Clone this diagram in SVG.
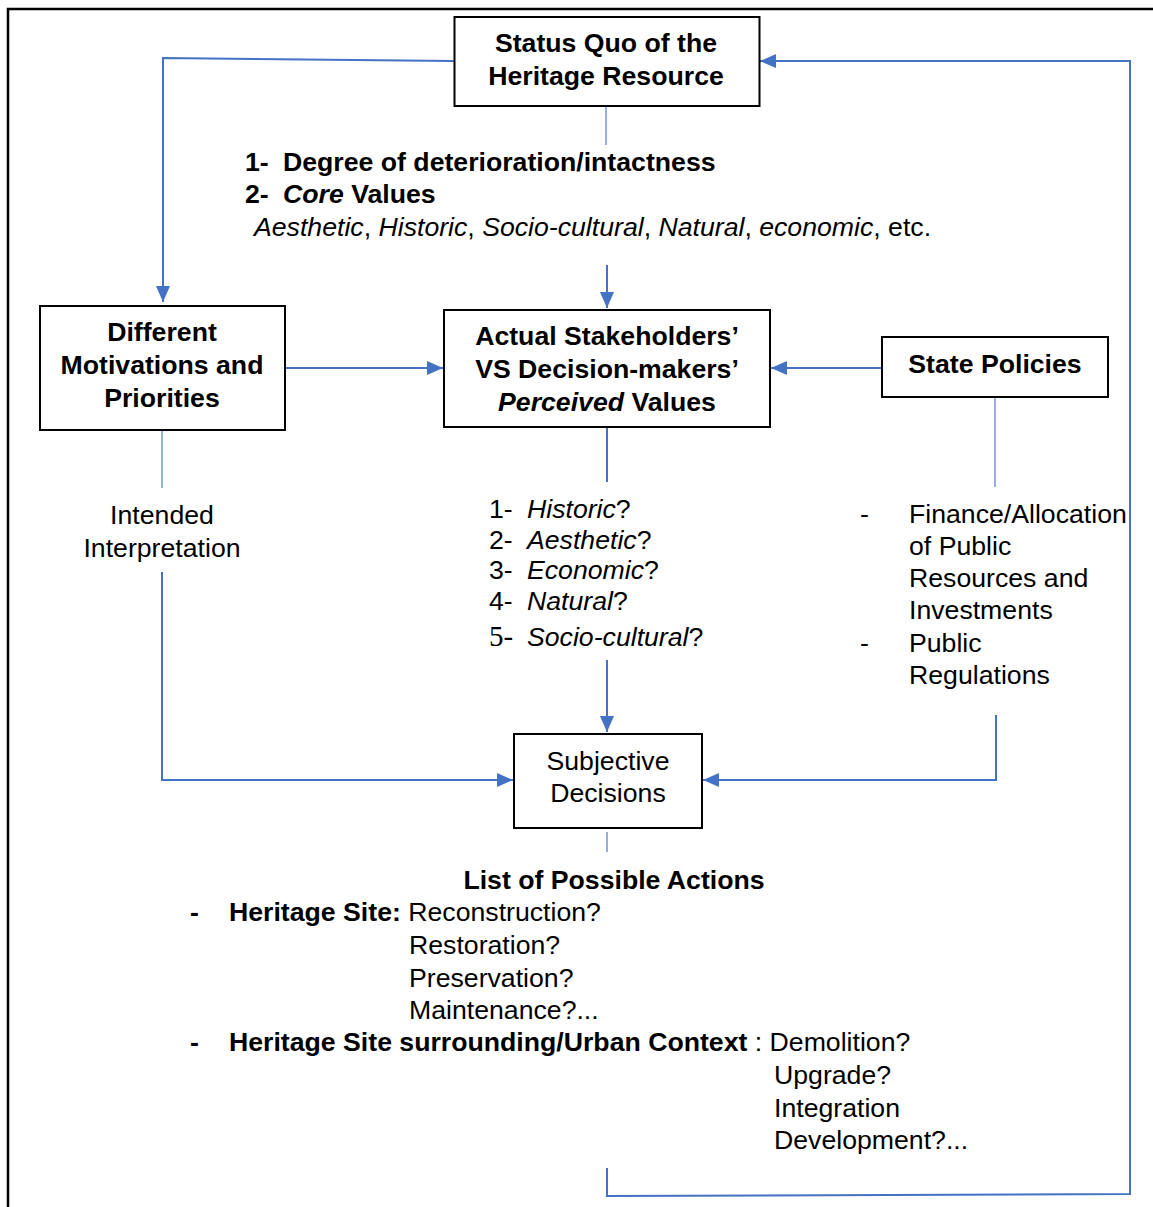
<svg xmlns="http://www.w3.org/2000/svg" width="1153" height="1207" viewBox="0 0 1153 1207">
<style>
.box{fill:#fff;stroke:#000;stroke-width:2}
.c{fill:none;stroke:#4472C4;stroke-width:2}
.t{stroke:#7394D6;stroke-width:1.5;fill:none}
text{font-family:"Liberation Sans",Arial,sans-serif;font-size:26.67px;fill:#000}
.b{font-weight:bold}
.i{font-style:italic}
.m{text-anchor:middle}
</style>
<defs>
<marker id="ah" viewBox="0 0 16 14" refX="16" refY="7" markerWidth="16" markerHeight="14" orient="auto" markerUnits="userSpaceOnUse"><path d="M0,0 L16,7 L0,14 Z" fill="#4472C4"/></marker>
</defs>
<rect width="1153" height="1207" fill="#fff"/>
<path d="M8,1207 V9 H1153" fill="none" stroke="#000" stroke-width="2.5"/>

<g id="connectors">
<path class="c" d="M454,61 L163,58 V302" marker-end="url(#ah)"/>
<path class="t" d="M606,106 V145"/>
<path class="c" d="M607,265 V308" marker-end="url(#ah)"/>
<path class="c" d="M285,368 H443" marker-end="url(#ah)"/>
<path class="c" d="M882,368 H771" marker-end="url(#ah)"/>
<path class="c" d="M607,427 V482"/>
<path class="c" d="M607,660 V732" marker-end="url(#ah)"/>
<path class="t" d="M162,430 V488"/>
<path class="c" d="M162,572 V780 H513" marker-end="url(#ah)"/>
<path class="t" d="M995,397 V487"/>
<path class="c" d="M996,715 V780 H703" marker-end="url(#ah)"/>
<path class="t" d="M607,832 V852"/>
<path class="c" d="M607,1168 V1196 L1130,1194 V61 H760" marker-end="url(#ah)"/>
</g>

<g id="status-quo">
<rect class="box" x="454.5" y="17" width="305" height="89"/>
<text class="b m" x="606" y="52">Status Quo of the</text>
<text class="b m" x="606" y="85">Heritage Resource</text>
</g>

<g id="core-values-label">
<text class="b" x="245" y="171">1-<tspan x="283">Degree of deterioration/intactness</tspan></text>
<text class="b" x="245" y="203">2-<tspan x="283" class="i">Core</tspan> Values</text>
<text x="254" y="236"><tspan class="i">Aesthetic</tspan>, <tspan class="i">Historic</tspan>, <tspan class="i">Socio-cultural</tspan>, <tspan class="i">Natural</tspan>, <tspan class="i">economic</tspan>, etc.</text>
</g>

<g id="different-motivations">
<rect class="box" x="40" y="306" width="245" height="124"/>
<text class="b m" x="162" y="341">Different</text>
<text class="b m" x="162" y="374">Motivations and</text>
<text class="b m" x="162" y="407">Priorities</text>
</g>

<g id="actual-stakeholders">
<rect class="box" x="444" y="310" width="326" height="117"/>
<text class="b m" x="607" y="345">Actual Stakeholders’</text>
<text class="b m" x="607" y="378">VS Decision-makers’</text>
<text class="b m" x="607" y="411"><tspan class="i">Perceived</tspan> Values</text>
</g>

<g id="state-policies">
<rect class="box" x="882" y="337" width="226" height="60"/>
<text class="b m" x="995" y="373">State Policies</text>
</g>

<g id="intended-interpretation">
<text class="m" x="162" y="524">Intended</text>
<text class="m" x="162" y="557">Interpretation</text>
</g>

<g id="perceived-values-list">
<text x="489" y="518">1-</text><text class="i" x="527" y="518">Historic<tspan font-style="normal">?</tspan></text>
<text x="489" y="549">2-</text><text class="i" x="527" y="549">Aesthetic<tspan font-style="normal">?</tspan></text>
<text x="489" y="579">3-</text><text class="i" x="527" y="579">Economic<tspan font-style="normal">?</tspan></text>
<text x="489" y="610">4-</text><text class="i" x="527" y="610">Natural<tspan font-style="normal">?</tspan></text>
<text x="489" y="646" style="font-family:'Liberation Serif','Times New Roman',serif;font-size:29px">5-</text><text class="i" x="527" y="646">Socio-cultural<tspan font-style="normal">?</tspan></text>
</g>

<g id="state-policies-list">
<text x="860" y="523">-</text>
<text x="909" y="523">Finance/Allocation</text>
<text x="909" y="555">of Public</text>
<text x="909" y="587">Resources and</text>
<text x="909" y="619">Investments</text>
<text x="860" y="652">-</text>
<text x="909" y="652">Public</text>
<text x="909" y="684">Regulations</text>
</g>

<g id="subjective-decisions">
<rect class="box" x="514" y="734" width="188" height="94"/>
<text class="m" x="608" y="770">Subjective</text>
<text class="m" x="608" y="802">Decisions</text>
</g>

<g id="possible-actions">
<text class="b m" x="614" y="889">List of Possible Actions</text>
<text class="b" x="190" y="921">-</text>
<text x="229" y="921"><tspan class="b">Heritage Site:</tspan> Reconstruction?</text>
<text x="409" y="954">Restoration?</text>
<text x="409" y="987">Preservation?</text>
<text x="409" y="1019">Maintenance?...</text>
<text class="b" x="190" y="1051">-</text>
<text x="229" y="1051"><tspan class="b">Heritage Site surrounding/Urban Context</tspan> : Demolition?</text>
<text x="774" y="1084">Upgrade?</text>
<text x="774" y="1117">Integration</text>
<text x="774" y="1149">Development?...</text>
</g>
</svg>
